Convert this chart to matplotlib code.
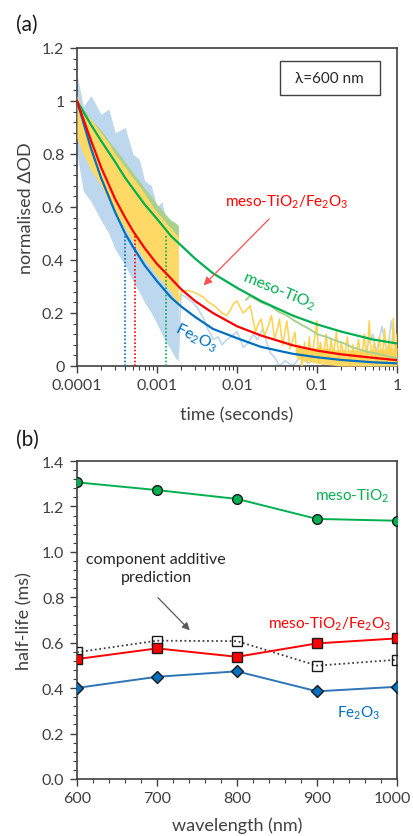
import numpy as np
import matplotlib
matplotlib.use('Agg')
import matplotlib.pyplot as plt
from matplotlib.ticker import FixedLocator, MultipleLocator, LogLocator, NullFormatter, FixedFormatter, FormatStrFormatter
from matplotlib.patches import Rectangle

plt.rcParams['font.family'] = ['Lato', 'DejaVu Sans']
plt.rcParams['mathtext.fontset'] = 'custom'
plt.rcParams['mathtext.rm'] = 'Lato'
plt.rcParams['mathtext.it'] = 'Lato:italic'
plt.rcParams['mathtext.bf'] = 'Lato:bold'

# ---------------- data: panel (a) ----------------
t_fit = [1e-4, 1.5e-4, 2e-4, 3e-4, 4e-4, 5e-4, 7e-4, 1e-3, 1.5e-3, 2e-3, 3e-3, 5e-3, 1e-2, 2e-2, 5e-2, 0.1, 0.2, 0.5, 1.0]
fit_fe2o3 = [1.0, 0.82, 0.71, 0.58, 0.50, 0.45, 0.38, 0.32, 0.258, 0.225, 0.185, 0.14, 0.105, 0.072, 0.046, 0.033, 0.023, 0.014, 0.010]
fit_comp = [1.0, 0.85, 0.75, 0.63, 0.56, 0.51, 0.445, 0.385, 0.33, 0.29, 0.245, 0.20, 0.15, 0.115, 0.078, 0.058, 0.044, 0.031, 0.022]
fit_meso = [1.0, 0.91, 0.85, 0.77, 0.71, 0.67, 0.61, 0.555, 0.49, 0.455, 0.405, 0.35, 0.295, 0.245, 0.19, 0.157, 0.13, 0.10, 0.085]

# dense (noisy) early part of the raw traces, given as envelopes
t_band = [1e-4, 1.2e-4, 1.5e-4, 2e-4, 2.5e-4, 3e-4, 4e-4, 5e-4, 6e-4, 7e-4, 8.5e-4, 1e-3, 1.15e-3, 1.3e-3, 1.5e-3, 1.7e-3, 1.85e-3]
band_fe2o3_lo = [0.80, 0.66, 0.62, 0.55, 0.50, 0.44, 0.38, 0.32, 0.28, 0.24, 0.20, 0.16, 0.12, 0.09, 0.06, 0.03, 0.02]
band_fe2o3_hi = [1.10, 0.98, 1.02, 0.95, 0.97, 0.88, 0.90, 0.80, 0.78, 0.70, 0.68, 0.60, 0.62, 0.55, 0.53, 0.50, 0.46]
band_comp_lo = [0.86, 0.80, 0.74, 0.68, 0.62, 0.58, 0.52, 0.47, 0.43, 0.40, 0.37, 0.34, 0.32, 0.30, 0.28, 0.25, 0.23]
band_comp_hi = [1.02, 0.96, 0.93, 0.88, 0.84, 0.80, 0.75, 0.71, 0.68, 0.65, 0.61, 0.58, 0.56, 0.54, 0.52, 0.50, 0.49]
band_meso_lo = [0.97, 0.91, 0.86, 0.82, 0.78, 0.75, 0.70, 0.66, 0.63, 0.60, 0.57, 0.54, 0.52, 0.50, 0.48, 0.46, 0.45]
band_meso_hi = [1.01, 0.97, 0.93, 0.89, 0.85, 0.82, 0.77, 0.73, 0.70, 0.67, 0.64, 0.61, 0.59, 0.57, 0.55, 0.54, 0.53]

# sparse later part of the raw traces
t_raw_fe2o3 = [1.85e-3, 2.0e-3, 2.3e-3, 2.8e-3, 3.2e-3, 3.8e-3, 4.3e-3, 5.1e-3, 5.8e-3, 6.5e-3, 7.5e-3, 8.5e-3,
               1.0e-2, 1.1e-2, 1.2e-2, 1.4e-2, 1.6e-2, 1.8e-2, 2.1e-2, 2.4e-2, 2.6e-2, 3.0e-2, 3.4e-2, 4.0e-2,
               5.0e-2, 6.0e-2, 8.0e-2, 0.1, 0.12, 0.15, 0.2, 0.25, 0.3, 0.4, 0.5, 0.55, 0.65, 0.75, 0.85, 0.95, 1.0]
raw_fe2o3 = [0.05, 0.27, 0.26, 0.24, 0.22, 0.18, 0.14, 0.10, 0.11, 0.08, 0.10, 0.11,
             0.13, 0.10, 0.07, 0.09, 0.12, 0.10, 0.14, 0.08, 0.05, 0.03, 0.0, 0.02,
             0.0, 0.03, 0.01, 0.04, 0.0, 0.05, 0.01, 0.04, 0.02, 0.06, 0.12, 0.05, 0.15, 0.04, 0.17, 0.06, 0.10]

t_raw_comp = [1.85e-3, 2.0e-3, 2.4e-3, 2.8e-3, 3.3e-3, 3.8e-3, 4.4e-3, 5.1e-3, 5.8e-3, 6.5e-3, 7.4e-3, 8.2e-3, 9e-3,
              1.0e-2, 1.1e-2, 1.2e-2, 1.35e-2, 1.46e-2, 1.55e-2, 1.7e-2, 1.85e-2, 2.0e-2, 2.2e-2, 2.45e-2, 2.7e-2,
              2.95e-2, 3.2e-2, 3.4e-2, 3.7e-2, 4.2e-2, 4.6e-2, 5.0e-2, 5.3e-2, 5.6e-2, 0.06, 0.065, 0.07, 0.075,
              0.08, 0.085, 0.09, 0.1, 0.105, 0.11, 0.12, 0.13, 0.14, 0.15, 0.16, 0.175, 0.19, 0.2, 0.22, 0.24,
              0.26, 0.28, 0.3, 0.33, 0.36, 0.39, 0.42, 0.45, 0.48, 0.52, 0.56, 0.6, 0.65, 0.7, 0.75, 0.8, 0.85,
              0.9, 0.95, 1.0]
raw_comp = [0.24, 0.28, 0.285, 0.28, 0.27, 0.26, 0.24, 0.23, 0.215, 0.20, 0.19, 0.21, 0.234,
            0.246, 0.22, 0.20, 0.215, 0.228, 0.19, 0.128, 0.16, 0.177, 0.114, 0.15, 0.19,
            0.102, 0.14, 0.177, 0.077, 0.17, 0.064, 0.10, 0.128, 0.039, 0.08, 0.0, 0.09, 0.01,
            0.11, 0.02, 0.07, 0.17, 0.01, 0.09, 0.03, 0.12, 0.02, 0.10, 0.04, 0.13, 0.01, 0.09, 0.03, 0.11,
            0.0, 0.08, 0.02, 0.10, 0.01, 0.12, 0.02, 0.17, 0.03, 0.09, 0.01, 0.11, 0.02, 0.14, 0.0, 0.10, 0.03,
            0.18, 0.02, 0.12]
t_late_band = [0.055, 0.1, 0.2, 0.5, 1.0]
late_comp_lo = [0.03, 0.01, 0.0, 0.0, 0.0]
late_comp_hi = [0.07, 0.07, 0.06, 0.06, 0.07]

t_raw_meso = [1.3e-2, 1.46e-2, 2.0e-2, 2.6e-2, 3.3e-2, 4.2e-2, 5.3e-2, 6.7e-2, 8.0e-2, 0.1, 0.13, 0.175, 0.22, 0.28, 0.36, 0.46, 0.6, 0.75, 1.0]
raw_meso = [0.25, 0.265, 0.24, 0.228, 0.205, 0.19, 0.17, 0.152, 0.14, 0.12, 0.11, 0.095, 0.085, 0.07, 0.06, 0.052, 0.045, 0.037, 0.03]

# ---------------- data: panel (b) ----------------
wavelength = [600, 700, 800, 900, 1000]
wavelength_labels = ['600', '700', '800', '900', '1000']
hl_meso = [1.306, 1.272, 1.233, 1.145, 1.137]
hl_comp = [0.528, 0.575, 0.538, 0.597, 0.619]
hl_additive = [0.558, 0.609, 0.607, 0.499, 0.525]
hl_fe2o3 = [0.401, 0.450, 0.474, 0.386, 0.406]

GREEN = '#00B050'
RED = '#FF0000'
BLUE = '#0070C0'
TXT = '#404040'
TICK_FS = 11.5

fig = plt.figure(figsize=(4.14, 8.37), dpi=100)
ax1 = fig.add_axes([77/414, 1-367/837, 320/414, 318/837])
ax2 = fig.add_axes([77/414, 1-780/837, 320/414, 318/837])

# ---- panel (a)
ax1.fill_between(t_band, band_fe2o3_lo, band_fe2o3_hi, color='#BDD7EE', lw=0, zorder=1)
ax1.plot(t_raw_fe2o3, raw_fe2o3, color='#BDD7EE', lw=1.2, zorder=1)
ax1.fill_between(t_band, band_meso_lo, band_meso_hi, color='#A9D18E', lw=0, zorder=2)
ax1.fill_between(t_band, band_comp_lo, band_comp_hi, color='#FFD966', lw=0, zorder=3)
ax1.fill_between(t_late_band, late_comp_lo, late_comp_hi, color='#FFD966', lw=0, zorder=3)
ax1.plot(t_raw_comp, raw_comp, color='#FFD24D', lw=1.1, zorder=3)
ax1.plot(t_raw_meso, raw_meso, color='#A9D18E', lw=1.4, zorder=3.5)

ax1.plot(t_fit, fit_meso, color=GREEN, lw=1.6, zorder=5)
ax1.plot(t_fit, fit_fe2o3, color=BLUE, lw=1.6, zorder=5)
ax1.plot(t_fit, fit_comp, color=RED, lw=1.6, zorder=6)

for hl, c in [(hl_fe2o3[0], BLUE), (hl_comp[0], RED), (hl_meso[0], GREEN)]:
    ax1.plot([hl/1000, hl/1000], [0, 0.5], color=c, lw=1.2, ls=(0, (1, 1.2)), zorder=4)

ax1.set_xscale('log')
ax1.set_xlim(1e-4, 1)
ax1.set_ylim(0, 1.2)
ax1.xaxis.set_major_locator(FixedLocator([1e-4, 1e-3, 1e-2, 1e-1, 1]))
ax1.xaxis.set_major_formatter(FixedFormatter(['0.0001', '0.001', '0.01', '0.1', '1']))
ax1.xaxis.set_minor_locator(LogLocator(base=10, subs=np.arange(2, 10)))
ax1.xaxis.set_minor_formatter(NullFormatter())
ax1.yaxis.set_major_locator(FixedLocator([0, 0.2, 0.4, 0.6, 0.8, 1.0, 1.2]))
ax1.yaxis.set_major_formatter(FixedFormatter(['0', '0.2', '0.4', '0.6', '0.8', '1', '1.2']))
ax1.yaxis.set_minor_locator(MultipleLocator(0.04))
ax1.set_xlabel('time (seconds)', fontsize=13, color=TXT)
ax1.set_ylabel('normalised ΔOD', fontsize=13, color=TXT)
ax1.xaxis.set_label_coords(0.5, -0.128)
ax1.yaxis.set_label_coords(-0.135, 0.5)

ax1.add_patch(Rectangle((0.634, 0.853), 0.3125, 0.107, transform=ax1.transAxes,
                        fill=False, ec=TXT, lw=1.0, zorder=7))
ax1.text(0.79, 0.906, 'λ=600 nm', transform=ax1.transAxes, ha='center', va='center',
         fontsize=11, color='#262626', zorder=8)

ax1.text(4.15e-2, 0.623, 'meso-TiO$_2$/Fe$_2$O$_3$', color=RED, fontsize=11, ha='center', va='center', zorder=8)
ax1.annotate('', xy=(3.62e-3, 0.297), xytext=(2.66e-2, 0.562),
             arrowprops=dict(arrowstyle='-|>', color='#FF5050', lw=0.9, mutation_scale=12), zorder=8)
ax1.text(3.35e-2, 0.284, 'meso-TiO$_2$', color=GREEN, fontsize=11.5, ha='center', va='center',
         rotation=-22, rotation_mode='anchor', zorder=8)
ax1.text(3.07e-3, 0.109, 'Fe$_2$O$_3$', color=BLUE, fontsize=11.5, ha='center', va='center',
         rotation=-26, rotation_mode='anchor', zorder=8)

# ---- panel (b)
ax2.plot(wavelength, hl_meso, color=GREEN, lw=1.4, marker='o', ms=7, mfc=GREEN, mec='#1a1a1a', mew=1.0, zorder=4)
ax2.plot(wavelength, hl_additive, color='#404040', lw=1.3, ls=(0, (1, 1.5)), marker='s', ms=7,
         mfc='none', mec='#1a1a1a', mew=1.0, zorder=3)
ax2.plot(wavelength, hl_comp, color=RED, lw=1.4, marker='s', ms=7, mfc=RED, mec='#1a1a1a', mew=1.0, zorder=4)
ax2.plot(wavelength, hl_fe2o3, color='#2E75B6', lw=1.4, marker='D', ms=6, mfc=BLUE, mec='#1a1a1a', mew=1.0, zorder=4)

ax2.set_xlim(600, 1000)
ax2.set_ylim(0, 1.4)
ax2.xaxis.set_major_locator(FixedLocator(wavelength))
# last label drawn separately (nudged left so it stays inside the figure)
ax2.xaxis.set_major_formatter(FixedFormatter(wavelength_labels[:-1] + ['']))
ax2.annotate(wavelength_labels[-1], xy=(wavelength[-1], 0), xycoords=('data', 'axes fraction'),
             xytext=(-3.5, -9), textcoords='offset points', ha='center', va='top',
             fontsize=TICK_FS, color=TXT, annotation_clip=False)
ax2.xaxis.set_minor_locator(MultipleLocator(20))
ax2.yaxis.set_major_locator(MultipleLocator(0.2))
ax2.yaxis.set_major_formatter(FormatStrFormatter('%.1f'))
ax2.yaxis.set_minor_locator(MultipleLocator(0.04))
ax2.set_xlabel('wavelength (nm)', fontsize=13, color=TXT)
ax2.set_ylabel('half-life (ms)', fontsize=13, color=TXT)
ax2.xaxis.set_label_coords(0.5, -0.118)
ax2.yaxis.set_label_coords(-0.14, 0.5)

ax2.text(943.75, 1.248, 'meso-TiO$_2$', color=GREEN, fontsize=11, ha='center', va='center')
ax2.text(698.75, 0.929, 'component additive\nprediction', color='#262626', fontsize=11.5,
         ha='center', va='center', linespacing=1.3)
ax2.annotate('', xy=(743.4, 0.646), xytext=(698.75, 0.807),
             arrowprops=dict(arrowstyle='-|>', color='#595959', lw=0.9, mutation_scale=11))
ax2.text(916, 0.687, 'meso-TiO$_2$/Fe$_2$O$_3$', color=RED, fontsize=11, ha='center', va='center')
ax2.text(952.5, 0.295, 'Fe$_2$O$_3$', color=BLUE, fontsize=11, ha='center', va='center')

for ax in (ax1, ax2):
    for s in ax.spines.values():
        s.set_color(TXT)
        s.set_linewidth(1.2)
    ax.tick_params(which='major', direction='out', length=5, width=1.0, color=TXT,
                   labelsize=TICK_FS, labelcolor=TXT, pad=4)
    ax.tick_params(which='minor', direction='out', length=3, width=0.8, color=TXT)

fig.text(27/414, 1-25/837, '(a)', fontsize=15, ha='center', va='center', color='#1a1a1a')
fig.text(27/414, 1-440/837, '(b)', fontsize=15, ha='center', va='center', color='#1a1a1a')

fig.savefig('out.png', dpi=100)
